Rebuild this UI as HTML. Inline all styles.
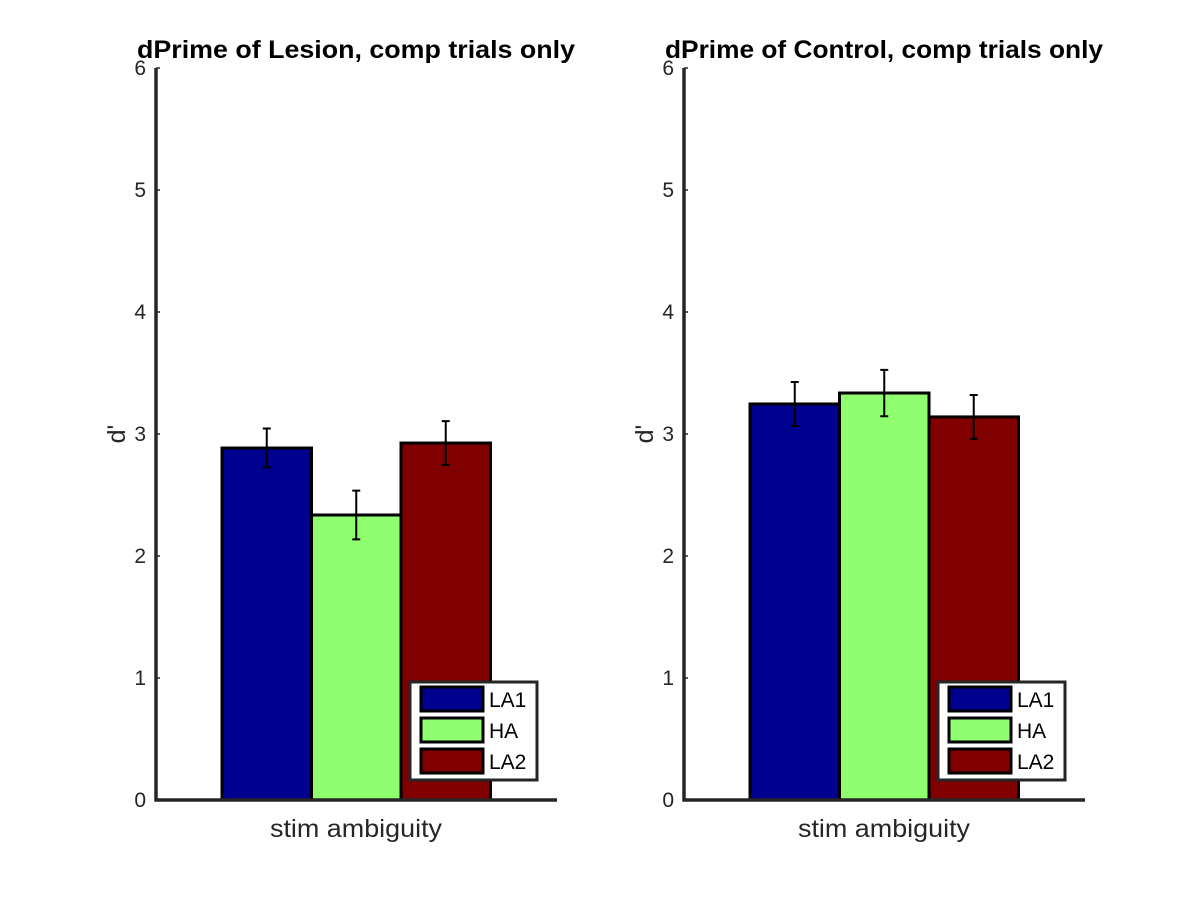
<!DOCTYPE html>
<html><head><meta charset="utf-8"><style>
body{margin:0;background:#fff;}
svg text{font-family:"Liberation Sans",sans-serif;}
</style></head><body>
<svg id="chart" width="1200" height="900"></svg>
<script>
const categories=["LA1","HA","LA2"];
const colors=["#00008f","#8fff6f","#800000"];
const panelTitles=["dPrime of Lesion, comp trials only","dPrime of Control, comp trials only"];
const lesionValues=[2.885,2.336,2.926];
const lesionErrors=[0.16,0.2,0.18];
const controlValues=[3.246,3.336,3.14];
const controlErrors=[0.18,0.19,0.18];
const yTicks=[0,1,2,3,4,5,6];
const svg=document.getElementById('chart');
const NS="http://www.w3.org/2000/svg";
function mk(tag,attrs,parent){const e=document.createElementNS(NS,tag);for(const k in attrs)e.setAttribute(k,attrs[k]);(parent||svg).appendChild(e);return e;}
const y0=800,y1=68;
function yScale(v){return y0-(v/6)*(y0-y1);}
function drawPanel(ox,title,vals,errs,idx){
  const g=mk('g',{});
  
  
  const bw=89.5, bx0=ox+66;
  vals.forEach((v,i)=>{
    const x=bx0+i*bw, y=yScale(v);
    const r=mk('rect',{x:x,y:y,width:bw,height:y0-y,fill:colors[i],stroke:'#000','stroke-width':3},g);
    
    
    const cx=x+bw/2, ya=yScale(v+errs[i]), yb=yScale(v-errs[i]);
    const eb=mk('path',{d:`M${cx},${ya}V${yb}M${cx-4},${ya}H${cx+4}M${cx-4},${yb}H${cx+4}`,stroke:'#000','stroke-width':2,fill:'none'},g);
    
    
  });
  const ax=mk('path',{d:`M${ox},${y1}V${y0}H${ox+401}`,stroke:'#262626','stroke-width':3.5,fill:'none'},g);
  
  
  yTicks.forEach(t=>{
    const y=yScale(t);
    mk('line',{x1:ox,x2:ox+4,y1:y,y2:y,stroke:'#262626','stroke-width':1.5},g);
    const tx=mk('text',{x:ox-10,y:y+7,'text-anchor':'end','font-size':21,fill:'#262626'},g);
    tx.textContent=t;
    
    
  });
  const tt=mk('text',{x:ox+200,y:58,'text-anchor':'middle','font-size':25,'font-weight':'bold',fill:'#000',textLength:438,lengthAdjust:'spacingAndGlyphs'},g);
  tt.textContent=title;
  
  
  const xl=mk('text',{x:ox+200,y:837,'text-anchor':'middle','font-size':25,fill:'#262626',textLength:172,lengthAdjust:'spacingAndGlyphs'},g);
  xl.textContent='stim ambiguity';
  
  
  const yl=mk('text',{x:0,y:0,'text-anchor':'middle','font-size':25,fill:'#262626',transform:`translate(${ox-31},434) rotate(-90)`},g);
  yl.textContent="d'";
  
  
  const lg=mk('g',{},g);
  
  
  mk('rect',{x:ox+254,y:682,width:127,height:98,fill:'#fff',stroke:'#262626','stroke-width':3},lg);
  categories.forEach((c,i)=>{
    const yy=687+i*31;
    const sw=mk('rect',{x:ox+265,y:yy,width:62,height:24,fill:colors[i],stroke:'#000','stroke-width':3},lg);
    
    
    const lt=mk('text',{x:ox+333,y:yy+20,'font-size':21,fill:'#000'},lg);
    lt.textContent=c;
    
    
  });
}
drawPanel(156,panelTitles[0],lesionValues,lesionErrors,'lesion');
drawPanel(684,panelTitles[1],controlValues,controlErrors,'control');
</script>
</body></html>
